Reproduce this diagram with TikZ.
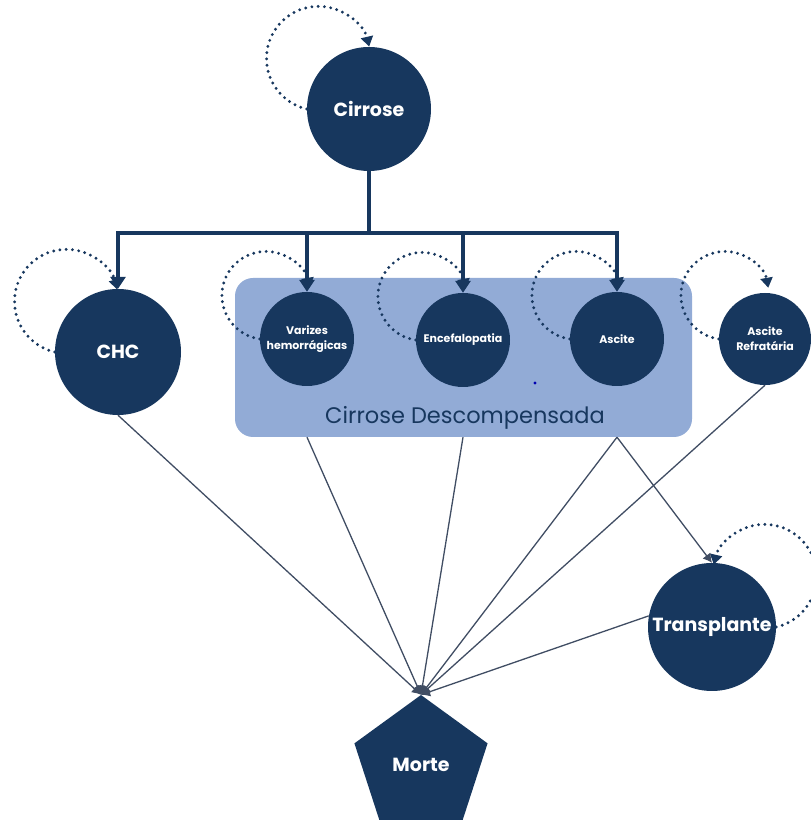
\documentclass[tikz,border=0pt]{standalone}
\usepackage{fontspec}
\setmainfont{Poppins}
\usetikzlibrary{shapes.geometric,arrows.meta,calc}
\definecolor{navy}{HTML}{17375E}
\definecolor{boxblue}{HTML}{92ABD6}
\definecolor{thinline}{HTML}{404D63}
\begin{document}
\begin{tikzpicture}[x=1pt,y=1pt,
 state/.style={circle,fill=navy,draw=none,text=white,font=\bfseries\fontsize{19}{22}\selectfont,inner sep=0pt,align=center},
 small/.style={state,font=\bfseries\fontsize{11}{15}\selectfont},
 branch/.style={draw=navy,line width=3.5pt},
 brarrow/.style={branch,-{Triangle[length=12pt,width=15pt]}},
 loopy/.style={draw=navy,line width=3.2pt,dash pattern=on 0pt off 6.3pt,line cap=round,-{Triangle[length=10pt,width=12pt]}},
 link/.style={draw=thinline,line width=1.3pt,-{Latex[length=9pt,width=10pt]}}
]
\useasboundingbox (0,0) rectangle (811,820);
% group box
\node[fill=boxblue,rounded corners=18pt,minimum width=457pt,minimum height=159pt,inner sep=0pt] (decomp) at (463.5,462.5) {};
\node[text=navy,font=\fontsize{22.5}{26}\selectfont] (declabel) at (465,402) {Cirrose Descompensada};
\fill[blue!70!black] (535,437) circle (1.6pt);
% states
\node[state,minimum size=124pt] (cir) at (369,711) {Cirrose};
\node[state,minimum size=126pt] (chc) at (118,468) {CHC};
\node[small,minimum size=94pt] (var) at (307,481) {Varizes\\hemorrágicas};
\node[small,minimum size=94pt] (enc) at (463,480) {Encefalopatia};
\node[small,minimum size=94pt] (asc) at (617,481) {Ascite};
\node[small,minimum size=92pt] (aref) at (765,481) {Ascite\\Refratária};
\node[state,minimum size=128pt] (trans) at (712,193) {Transplante};
\node[regular polygon,regular polygon sides=5,fill=navy,minimum size=140pt,inner sep=0pt,text=white,font=\bfseries\fontsize{19}{22}\selectfont] (morte) at (421,55) {Morte};
% branching from Cirrose
\coordinate (bar) at (369,587);
\draw[branch] (cir.south) -- (bar);
\draw[brarrow] (bar) -| (chc.north);
\draw[brarrow] (bar) -| (var.north);
\draw[brarrow] (bar) -| (enc.north);
\draw[brarrow] (bar) -| (asc.north);
% self loops
\draw[loopy] (cir.west) arc[start angle=257,end angle=13,radius=52];
\draw[loopy] (chc.west) arc[start angle=257,end angle=13,radius=52];
\draw[loopy] (var.west) arc[start angle=262,end angle=10,radius=44];
\draw[loopy] (enc.west) arc[start angle=262,end angle=10,radius=44];
\draw[loopy] (asc.west) arc[start angle=262,end angle=10,radius=44];
\draw[loopy] (aref.west) arc[start angle=262,end angle=10,radius=44];
\draw[loopy] (trans.east) arc[start angle=-77,end angle=167,radius=52];
% transitions to death and transplant
\draw[link] (chc.south) -- (morte.corner 1);
\draw[link] (decomp.south -| var) -- (morte.corner 1);
\draw[link] (decomp.south -| enc) -- (morte.corner 1);
\draw[link] (decomp.south -| asc) -- (morte.corner 1);
\draw[link] (aref.south) -- (morte.corner 1);
\draw[link] (trans.170) -- (morte.corner 1);
\draw[link] (decomp.south -| asc) -- (trans.north);
\end{tikzpicture}
\end{document}
